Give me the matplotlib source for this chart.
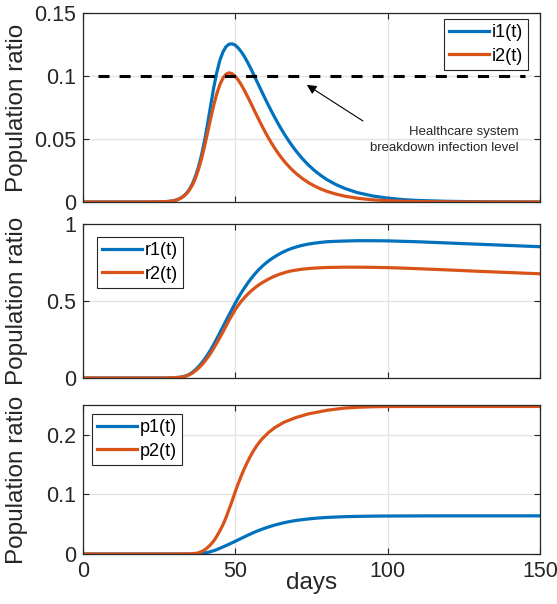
import matplotlib
matplotlib.use("Agg")
import matplotlib.pyplot as plt
from matplotlib.ticker import FuncFormatter

days = ([0, 10, 20, 25]
        + list(range(28, 71))
        + [72, 74, 76, 78, 80]
        + [83, 86, 90, 95, 100, 105, 110, 120, 130, 140, 150])

# infected ratio
i1 = [0, 0, 0, 0.0001,
      0.0004, 0.0007, 0.0011, 0.0018, 0.0029, 0.0045, 0.0068, 0.0100, 0.0145, 0.0205,
      0.0280, 0.0375, 0.0490, 0.0625, 0.0770, 0.0910, 0.1030, 0.1125, 0.1190, 0.1232,
      0.1252, 0.1255, 0.1245, 0.1222, 0.1192, 0.1155, 0.1112, 0.1065, 0.1015, 0.0964,
      0.0913, 0.0862, 0.0812, 0.0763, 0.0716, 0.0670, 0.0626, 0.0584, 0.0544, 0.0506,
      0.0470, 0.0436, 0.0404,
      0.0345, 0.0294, 0.0250, 0.0212, 0.0179,
      0.0139, 0.0107, 0.0075, 0.0048, 0.0031, 0.0019, 0.0012, 0.0005, 0.0002, 0.0001, 0]
i2 = [0, 0, 0, 0.0001,
      0.0004, 0.0007, 0.0011, 0.0018, 0.0028, 0.0043, 0.0065, 0.0095, 0.0135, 0.0190,
      0.0260, 0.0345, 0.0445, 0.0555, 0.0665, 0.0770, 0.0860, 0.0932, 0.0982, 0.1013,
      0.1025, 0.1018, 0.0998, 0.0968, 0.0930, 0.0887, 0.0840, 0.0791, 0.0741, 0.0691,
      0.0642, 0.0594, 0.0548, 0.0505, 0.0464, 0.0426, 0.0390, 0.0357, 0.0326, 0.0298,
      0.0272, 0.0248, 0.0226,
      0.0187, 0.0154, 0.0127, 0.0104, 0.0085,
      0.0063, 0.0046, 0.0030, 0.0017, 0.0010, 0.0006, 0.0003, 0.0001, 0, 0, 0]

# recovered ratio
r1 = [0, 0, 0, 0,
      0.000, 0.001, 0.002, 0.003, 0.005, 0.009, 0.015, 0.024, 0.037, 0.054,
      0.074, 0.097, 0.123, 0.152, 0.184, 0.219, 0.256, 0.294, 0.333, 0.372,
      0.410, 0.447, 0.485, 0.520, 0.553, 0.584, 0.613, 0.640, 0.665, 0.688,
      0.709, 0.728, 0.745, 0.761, 0.775, 0.788, 0.800, 0.811, 0.821, 0.830,
      0.838, 0.845, 0.851,
      0.862, 0.870, 0.876, 0.881, 0.885,
      0.888, 0.890, 0.892, 0.892, 0.891, 0.888, 0.885, 0.877, 0.869, 0.861, 0.853]
r2 = [0, 0, 0, 0,
      0.000, 0.001, 0.002, 0.003, 0.005, 0.008, 0.013, 0.021, 0.032, 0.047,
      0.064, 0.084, 0.107, 0.133, 0.162, 0.194, 0.228, 0.263, 0.299, 0.337,
      0.375, 0.409, 0.443, 0.472, 0.498, 0.521, 0.542, 0.561, 0.578, 0.594,
      0.608, 0.621, 0.632, 0.643, 0.653, 0.662, 0.670, 0.677, 0.683, 0.689,
      0.694, 0.698, 0.701,
      0.707, 0.711, 0.714, 0.716, 0.718,
      0.719, 0.720, 0.720, 0.719, 0.717, 0.714, 0.710, 0.702, 0.693, 0.685, 0.677]

# deceased ratio
p1 = [0, 0, 0, 0,
      0, 0, 0, 0, 0, 0, 0, 0, 0, 0.0002,
      0.0005, 0.0010, 0.0017, 0.0027, 0.0040, 0.0055, 0.0074, 0.0096, 0.0118, 0.0141,
      0.0164, 0.0188, 0.0212, 0.0237, 0.0262, 0.0287, 0.0311, 0.0335, 0.0358, 0.0380,
      0.0400, 0.0419, 0.0437, 0.0454, 0.0470, 0.0485, 0.0499, 0.0512, 0.0524, 0.0535,
      0.0545, 0.0554, 0.0562,
      0.0576, 0.0588, 0.0598, 0.0606, 0.0613,
      0.0620, 0.0626, 0.0631, 0.0635, 0.0637, 0.0638, 0.0639, 0.0640, 0.0640, 0.0640, 0.0640]
p2 = [0, 0, 0, 0,
      0, 0, 0, 0, 0, 0, 0.0001, 0.0002, 0.0005, 0.0010,
      0.002, 0.004, 0.007, 0.011, 0.016, 0.022, 0.030, 0.039, 0.049, 0.061,
      0.075, 0.089, 0.104, 0.118, 0.131, 0.143, 0.154, 0.164, 0.173, 0.181,
      0.188, 0.194, 0.199, 0.204, 0.208, 0.212, 0.215, 0.218, 0.221, 0.223,
      0.225, 0.227, 0.229,
      0.232, 0.235, 0.237, 0.239, 0.241,
      0.243, 0.2448, 0.2461, 0.2470, 0.2474, 0.2475, 0.2475, 0.2475, 0.2475, 0.2475, 0.2475]

threshold = 0.1
threshold_days = [5, 145]

blue = "#0072BD"
orange = "#D95319"
dark = "#262626"

plt.rcParams["font.family"] = ["Liberation Sans", "DejaVu Sans"]

fig = plt.figure(figsize=(5.57, 6.04), dpi=100)
left, width = 0.1485, 0.821
ax1 = fig.add_axes([left, 0.6656, width, 0.313])
ax2 = fig.add_axes([left, 0.3742, width, 0.2548])
ax3 = fig.add_axes([left, 0.0828, width, 0.2467])

fmt = FuncFormatter(lambda v, pos: "%g" % round(v, 4))

panels = [
    (ax1, i1, i2, ["i1(t)", "i2(t)"], (0, 0.15), [0, 0.05, 0.1, 0.15]),
    (ax2, r1, r2, ["r1(t)", "r2(t)"], (0, 1), [0, 0.5, 1]),
    (ax3, p1, p2, ["p1(t)", "p2(t)"], (0, 0.25), [0, 0.1, 0.2]),
]

for ax, a, b, labels, ylim, yticks in panels:
    ax.plot(days, a, color=blue, lw=2.3, label=labels[0], solid_joinstyle="round")
    ax.plot(days, b, color=orange, lw=2.3, label=labels[1], solid_joinstyle="round")
    ax.set_xlim(0, 150)
    ax.set_ylim(*ylim)
    ax.set_xticks([0, 50, 100, 150])
    ax.set_yticks(yticks)
    ax.yaxis.set_major_formatter(fmt)
    ax.grid(True, color="#e3e3e3", lw=0.9)
    ax.set_axisbelow(True)
    ax.tick_params(direction="in", length=4, width=0.8, colors=dark, labelsize=15.5,
                   top=True, right=True, pad=5)
    for s in ax.spines.values():
        s.set_color(dark)
        s.set_linewidth(0.9)
    ax.set_ylabel("Population ratio", fontsize=17.5, color=dark)
    ax.yaxis.set_label_coords(-0.119, 0.5)
    if ax is not ax3:
        ax.tick_params(labelbottom=False)

leg_kw = dict(fontsize=13, frameon=True, fancybox=False, framealpha=1,
              edgecolor=dark, handlelength=2.2, handletextpad=0.15,
              labelspacing=0.35, borderpad=0.3, borderaxespad=0)
l1 = ax1.legend(loc="upper right", bbox_to_anchor=(0.9745, 0.968), **leg_kw)
l2 = ax2.legend(loc="upper left", bbox_to_anchor=(0.031, 0.916), **leg_kw)
l3 = ax3.legend(loc="upper left", bbox_to_anchor=(0.0197, 0.94), **leg_kw)
for leg in (l1, l2, l3):
    leg.get_frame().set_linewidth(0.8)

# healthcare breakdown level
ax1.plot(threshold_days, [threshold, threshold], color="black", lw=2.2,
         linestyle=(0, (3.6, 3.3)))
ax1.annotate("", xy=(73.5, 0.0929), xytext=(91.9, 0.0643),
             arrowprops=dict(arrowstyle="-|>", color="black", lw=0.8,
                             mutation_scale=14, shrinkA=0, shrinkB=0))
ax1.text(143, 0.0556, "Healthcare system", fontsize=9.5, ha="right", va="center", color=dark)
ax1.text(143, 0.0429, "breakdown infection level", fontsize=9.5, ha="right", va="center",
         color=dark)

ax3.set_xlabel("days", fontsize=17.5, color=dark, labelpad=-7)

fig.savefig("out.png", dpi=100)
